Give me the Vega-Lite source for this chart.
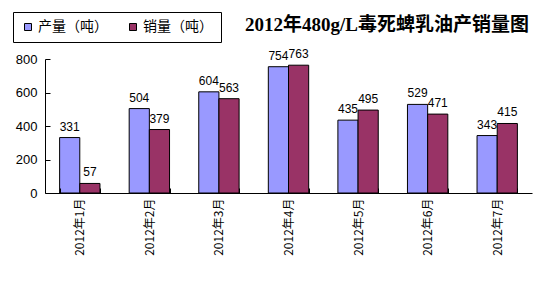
{
  "$schema": "https://vega.github.io/schema/vega-lite/v6.json",
  "width": 487,
  "height": 134,
  "autosize": {"type": "none"},
  "padding": {"left": 45, "top": 59, "right": 22, "bottom": 93},
  "background": "white",
  "title": {
    "text": "2012年480g/L毒死蜱乳油产销量图",
    "anchor": "end",
    "offset": 0,
    "dy": 42,
    "baseline": "bottom",
    "font": "Liberation Serif, Noto Sans CJK SC",
    "fontSize": 19,
    "fontWeight": "bold",
    "color": "black",
    "dx": -3
  },
  "data": {
    "values": [
      {"month": "2012年1月", "series": "产量（吨）", "value": 331},
      {"month": "2012年1月", "series": "销量（吨）", "value": 57},
      {"month": "2012年2月", "series": "产量（吨）", "value": 504},
      {"month": "2012年2月", "series": "销量（吨）", "value": 379},
      {"month": "2012年3月", "series": "产量（吨）", "value": 604},
      {"month": "2012年3月", "series": "销量（吨）", "value": 563},
      {"month": "2012年4月", "series": "产量（吨）", "value": 754},
      {"month": "2012年4月", "series": "销量（吨）", "value": 763},
      {"month": "2012年5月", "series": "产量（吨）", "value": 435},
      {"month": "2012年5月", "series": "销量（吨）", "value": 495},
      {"month": "2012年6月", "series": "产量（吨）", "value": 529},
      {"month": "2012年6月", "series": "销量（吨）", "value": 471},
      {"month": "2012年7月", "series": "产量（吨）", "value": 343},
      {"month": "2012年7月", "series": "销量（吨）", "value": 415}
    ]
  },
  "encoding": {
    "x": {
      "field": "month",
      "type": "nominal",
      "sort": null,
      "scale": {"paddingInner": 0.42, "paddingOuter": 0.21},
      "axis": {
        "title": null,
        "labelAngle": -90,
        "labelFont": "Noto Sans CJK SC",
        "labelFontSize": 12,
        "labelColor": "black",
        "labelPadding": 10,
        "tickBand": "extent",
        "tickSize": -5,
        "tickColor": "black",
        "domainColor": "black",
        "grid": false,
        "zindex": 1
      }
    },
    "xOffset": {"field": "series", "type": "nominal", "scale": {"paddingInner": 0, "paddingOuter": 0}},
    "y": {
      "field": "value",
      "type": "quantitative",
      "scale": {"domain": [0, 800], "nice": false},
      "axis": {
        "title": null,
        "values": [0, 200, 400, 600, 800],
        "labelFont": "Liberation Sans",
        "labelFontSize": 13,
        "labelColor": "black",
        "labelPadding": 13,
        "tickSize": -5,
        "tickColor": "black",
        "domainColor": "black",
        "grid": false,
        "zindex": 1
      }
    }
  },
  "layer": [
    {
      "mark": {"type": "bar", "stroke": "black", "strokeWidth": 1},
      "encoding": {
        "color": {
          "field": "series",
          "type": "nominal",
          "scale": {"domain": ["产量（吨）", "销量（吨）"], "range": ["#9999FF", "#993366"]},
          "legend": {
            "title": null,
            "orient": "none",
            "legendX": -32,
            "legendY": -47,
            "direction": "horizontal",
            "strokeColor": "black",
            "fillColor": "white",
            "padding": 8,
            "symbolType": "square",
            "symbolSize": 49,
            "symbolStrokeColor": "black",
            "symbolStrokeWidth": 1,
            "labelFont": "Noto Sans CJK SC",
            "labelFontSize": 14,
            "labelColor": "black",
            "labelOffset": 3,
            "columnPadding": 18
          }
        }
      }
    },
    {
      "mark": {"type": "text", "baseline": "bottom", "dy": -4, "font": "Liberation Sans", "fontSize": 12, "color": "black"},
      "encoding": {"text": {"field": "value", "type": "quantitative"}}
    }
  ],
  "config": {
    "view": {"stroke": null},
    "axis": {"domainWidth": 1, "tickWidth": 1}
  }
}
